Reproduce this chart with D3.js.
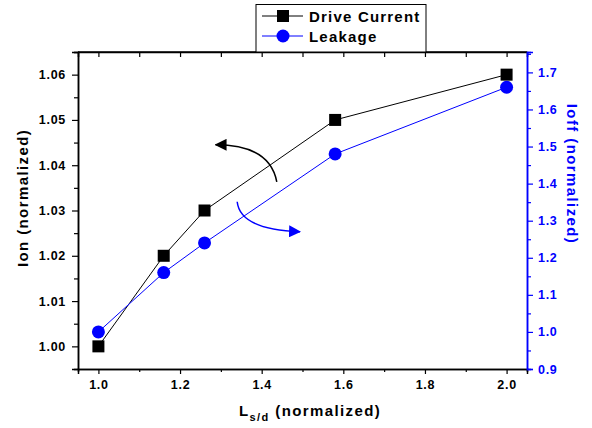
<!DOCTYPE html>
<html>
<head>
<meta charset="utf-8">
<script src="https://cdn.jsdelivr.net/npm/d3@7"></script>
<style>
  body { margin: 0; background: #fff; }
  svg { display: block; }
  text { font-family: Arial, "Liberation Sans", sans-serif; font-weight: bold; }
</style>
</head>
<body>
<div id="chart"></div>
<script>
// data
var lsd = [1.0, 1.16, 1.26, 1.58, 2.0];
var driveCurrent = [1.000, 1.020, 1.030, 1.050, 1.060];
var leakage = [1.00, 1.16, 1.24, 1.48, 1.66];

var xTicks = [1.0, 1.2, 1.4, 1.6, 1.8, 2.0];
var xMinor = [1.1, 1.3, 1.5, 1.7, 1.9];
var xTopTicks = [1.0, 1.1, 1.2, 1.3, 1.4, 1.5, 1.6, 1.7, 1.8, 1.9, 2.0];
var ionTicks = [1.00, 1.01, 1.02, 1.03, 1.04, 1.05, 1.06];
var ioffTicks = [0.9, 1.0, 1.1, 1.2, 1.3, 1.4, 1.5, 1.6, 1.7];

// arrow annotations in data units [x, y]
var ionArrow = [[1.437, 1.0363], [1.420, 1.0445], [1.287, 1.0445]];
var ioffArrow = [[1.340, 1.351], [1.347, 1.276], [1.494, 1.2703]];

var W = 592, H = 428;
var L = 78, R = 527, T = 52, B = 369;

var svg = d3.select('#chart').append('svg')
  .attr('width', W).attr('height', H);

var x = d3.scaleLinear().domain([0.95, 2.05]).range([L, R]);
var yL = d3.scaleLinear().domain([0.995, 1.065]).range([B, T]);
var yR = d3.scaleLinear().domain([0.9, 1.755]).range([B, T]);

var fmt2 = d3.format('.2f'), fmt1 = d3.format('.1f');

// bottom axis
svg.append('g').attr('transform', 'translate(0,' + B + ')')
  .call(d3.axisBottom(x).tickValues(xTicks).tickSize(5).tickFormat(fmt1).tickPadding(6));
svg.append('g').attr('transform', 'translate(0,' + B + ')')
  .call(d3.axisBottom(x).tickValues(xMinor).tickSize(3).tickFormat(''));
// top axis (ticks inward)
svg.append('g').attr('transform', 'translate(0,' + T + ')')
  .call(d3.axisBottom(x).tickValues(xTopTicks).tickSize(5).tickFormat(''));
svg.append('line').attr('x1', L).attr('x2', R).attr('y1', T).attr('y2', T)
  .attr('stroke', '#000').attr('stroke-width', 1.5);

// left axis
svg.append('g').attr('transform', 'translate(' + L + ',0)')
  .call(d3.axisLeft(yL).tickValues(ionTicks).tickSize(6).tickFormat(fmt2).tickPadding(6));
svg.append('g').attr('transform', 'translate(' + L + ',0)')
  .call(d3.axisLeft(yL).tickValues(ionTicks.map(function (v) { return v + 0.005; })).tickSize(4).tickFormat(''));

// right axis (blue)
svg.append('g').attr('class', 'blue').attr('transform', 'translate(' + R + ',0)')
  .call(d3.axisRight(yR).tickValues(ioffTicks).tickSize(6).tickFormat(fmt1).tickPadding(5));
svg.append('g').attr('class', 'blue').attr('transform', 'translate(' + R + ',0)')
  .call(d3.axisRight(yR).tickValues(ioffTicks.map(function (v) { return v + 0.05; })).tickSize(4).tickFormat(''));

svg.selectAll('.domain').attr('stroke-width', 1.5);
svg.selectAll('.tick line').attr('stroke-width', 1.2);
svg.selectAll('.tick text').style('font-size', '12.5px').style('letter-spacing', '0.7px').attr('fill', '#000');
svg.selectAll('g.blue .domain, g.blue .tick line').attr('stroke', '#0000ff');
svg.selectAll('g.blue .tick text').attr('fill', '#0000ff');

// axis titles
svg.append('text')
  .attr('transform', 'translate(28,198) rotate(-90)')
  .attr('text-anchor', 'middle')
  .style('font-size', '15px').style('letter-spacing', '1.4px')
  .text('Ion (normalized)');

svg.append('text')
  .attr('transform', 'translate(567,174) rotate(90)')
  .attr('text-anchor', 'middle')
  .attr('fill', '#0000ff')
  .style('font-size', '15px').style('letter-spacing', '1.4px')
  .text('Ioff (normalized)');

var xt = svg.append('text').attr('x', 239).attr('y', 416)
  .style('font-size', '15px').style('letter-spacing', '1.4px');
xt.append('tspan').text('L');
xt.append('tspan').attr('dy', 5).style('font-size', '11px').text('s/d');
xt.append('tspan').attr('dy', -5).text(' (normalized)');

// lines and markers
var lineL = d3.line().x(function (d, i) { return x(lsd[i]); }).y(function (d) { return yL(d); });
var lineR = d3.line().x(function (d, i) { return x(lsd[i]); }).y(function (d) { return yR(d); });

svg.append('path').datum(driveCurrent).attr('d', lineL)
  .attr('fill', 'none').attr('stroke', '#000').attr('stroke-width', 1);
svg.selectAll('rect.drive').data(driveCurrent).enter().append('rect')
  .attr('class', 'drive')
  .attr('x', function (d, i) { return x(lsd[i]) - 6; })
  .attr('y', function (d) { return yL(d) - 6; })
  .attr('width', 12).attr('height', 12)
  .attr('fill', '#000');

svg.append('path').datum(leakage).attr('d', lineR)
  .attr('fill', 'none').attr('stroke', '#0000ff').attr('stroke-width', 1);
svg.selectAll('circle.leak').data(leakage).enter().append('circle')
  .attr('class', 'leak')
  .attr('cx', function (d, i) { return x(lsd[i]); })
  .attr('cy', function (d) { return yR(d); })
  .attr('r', 6.5)
  .attr('fill', '#0000ff');

// arrows
var defs = svg.append('defs');
[['headK', '#000'], ['headB', '#0000ff']].forEach(function (m) {
  defs.append('marker').attr('id', m[0])
    .attr('viewBox', '0 0 12 12').attr('refX', 11).attr('refY', 6)
    .attr('markerWidth', 12).attr('markerHeight', 12)
    .attr('markerUnits', 'userSpaceOnUse').attr('orient', 'auto')
    .append('path').attr('d', 'M0,0 L12,6 L0,12 Z').attr('fill', m[1]);
});

function curve(pts, ys) {
  var p = pts.map(function (d) { return [x(d[0]), ys(d[1])]; });
  return 'M' + p[0] + 'Q' + p[1] + ' ' + p[2];
}
svg.append('path').attr('d', curve(ionArrow, yL))
  .attr('fill', 'none').attr('stroke', '#000').attr('stroke-width', 1.5)
  .attr('marker-end', 'url(#headK)');
svg.append('path').attr('d', curve(ioffArrow, yR))
  .attr('fill', 'none').attr('stroke', '#0000ff').attr('stroke-width', 1.5)
  .attr('marker-end', 'url(#headB)');

// legend
var lg = svg.append('g');
lg.append('rect').attr('x', 256).attr('y', 4.5).attr('width', 170).attr('height', 47.5)
  .attr('fill', '#fff').attr('stroke', '#000').attr('stroke-width', 1);
lg.append('line').attr('x1', 262).attr('x2', 303).attr('y1', 16).attr('y2', 16)
  .attr('stroke', '#000').attr('stroke-width', 1);
lg.append('rect').attr('x', 277).attr('y', 10).attr('width', 12).attr('height', 12).attr('fill', '#000');
lg.append('text').attr('x', 309).attr('y', 21.5)
  .style('font-size', '15px').style('letter-spacing', '1.2px').text('Drive Current');
lg.append('line').attr('x1', 262).attr('x2', 303).attr('y1', 36).attr('y2', 36)
  .attr('stroke', '#0000ff').attr('stroke-width', 1);
lg.append('circle').attr('cx', 283).attr('cy', 36).attr('r', 6.5).attr('fill', '#0000ff');
lg.append('text').attr('x', 309).attr('y', 41.5)
  .style('font-size', '15px').style('letter-spacing', '1.2px').text('Leakage');
</script>
</body>
</html>
